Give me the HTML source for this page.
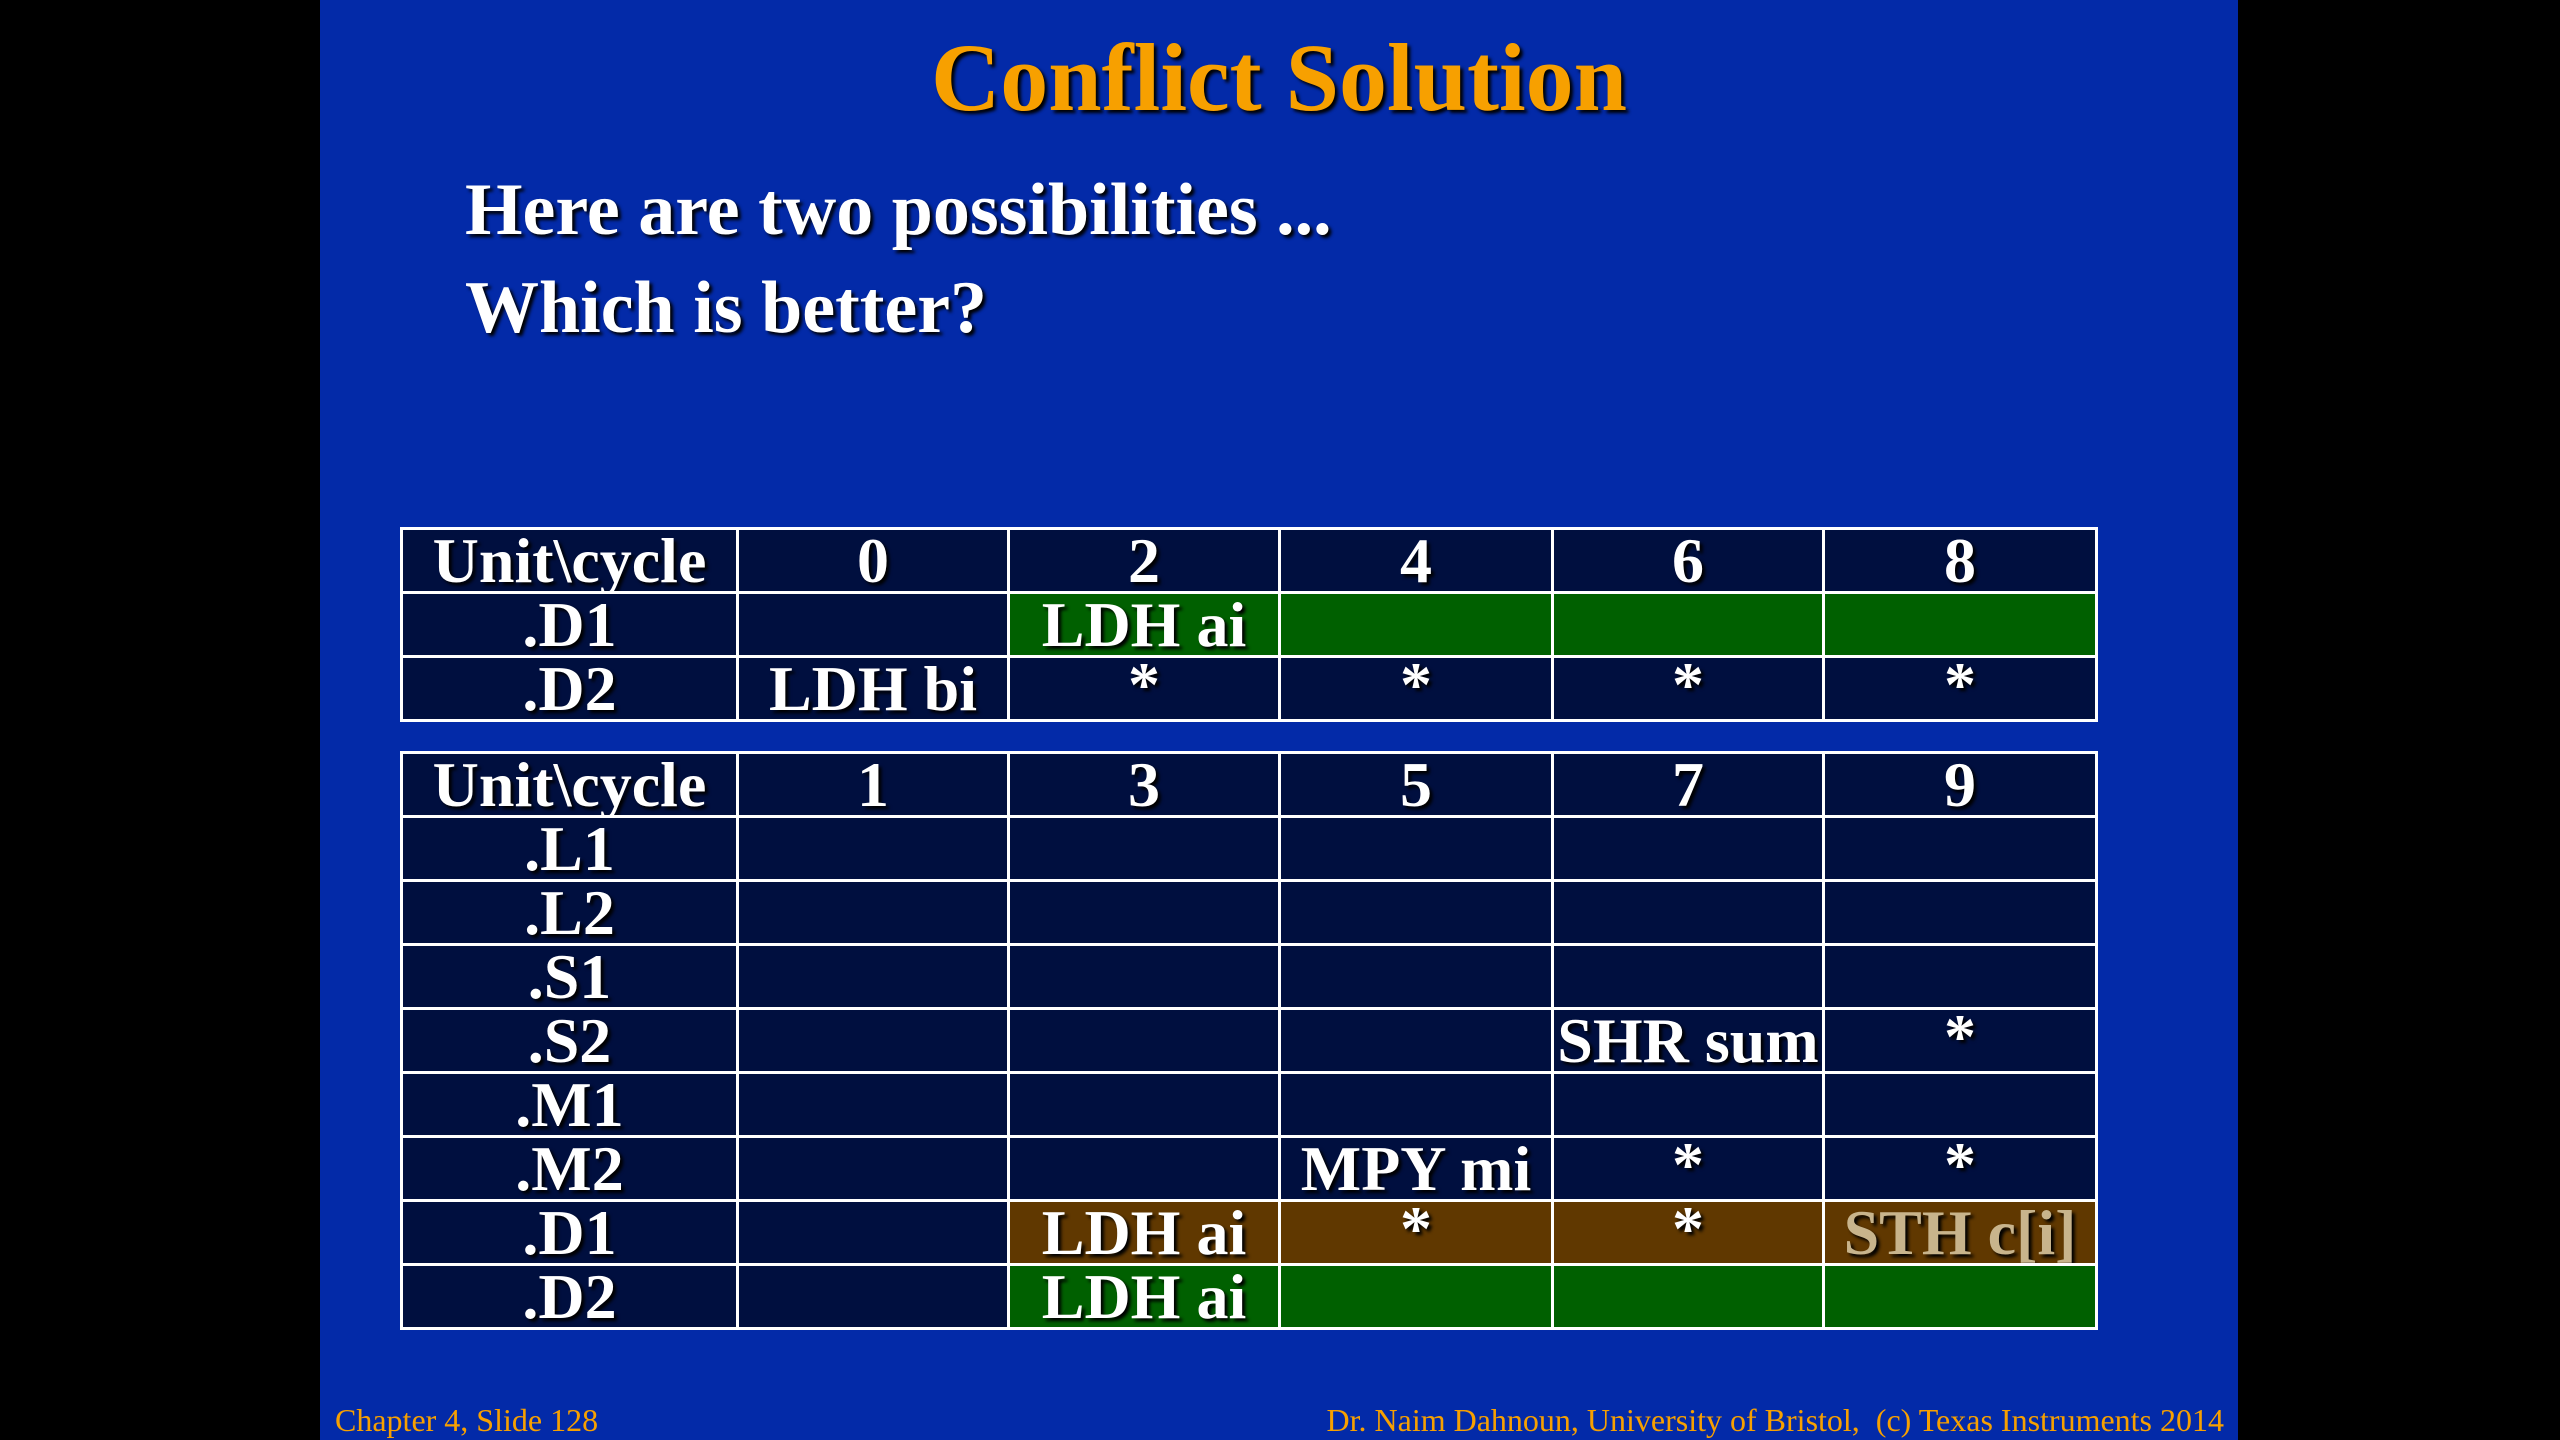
<!DOCTYPE html>
<html><head><meta charset="utf-8"><style>
body{margin:0;width:2560px;height:1440px;background:#000;overflow:hidden;font-family:"Liberation Serif",serif;}
#slide{position:absolute;left:320px;top:0;width:1918px;height:1440px;background:#032aa8;}
.t{position:absolute;font-weight:bold;white-space:nowrap;text-shadow:3px 3px 3px #000;}
table{position:absolute;left:400px;border-collapse:collapse;table-layout:fixed;}
td{border:3px solid #fff;background:#000f3f;color:#fff;font-weight:bold;font-size:64px;text-align:center;height:61px;padding:0;line-height:61px;text-shadow:3px 3px 3px #000;white-space:nowrap;overflow:hidden;}
td.g{background:#006000}td.b{background:#603800}
.ast{vertical-align:top;line-height:54px;}
.foot{position:absolute;top:1402px;font-size:32px;color:#f7a000;}
</style></head><body>
<div id="slide">
<div class="t" style="left:0;width:1918px;text-align:center;top:22px;font-size:96px;color:#f7a000;">Conflict Solution</div>
<div class="t" style="left:145px;top:168px;font-size:74px;color:#fff;">Here are two possibilities ...</div>
<div class="t" style="left:145px;top:266px;font-size:74px;color:#fff;">Which is better?</div>
<div class="foot" style="left:15px;">Chapter 4, Slide 128</div>
<div class="foot" style="right:14px;">Dr. Naim Dahnoun, University of Bristol,&nbsp; (c) Texas Instruments 2014</div>
</div>
<table style="top:527px;width:1695px;">
<colgroup><col style="width:336px"><col style="width:271px"><col style="width:271px"><col style="width:273px"><col style="width:271px"><col style="width:273px"></colgroup>
<tr><td>Unit\cycle</td><td>0</td><td>2</td><td>4</td><td>6</td><td>8</td></tr>
<tr><td>.D1</td><td></td><td class="g">LDH ai</td><td class="g"></td><td class="g"></td><td class="g"></td></tr>
<tr><td>.D2</td><td>LDH bi</td><td class="ast">*</td><td class="ast">*</td><td class="ast">*</td><td class="ast">*</td></tr>
</table>
<table style="top:751px;width:1695px;">
<colgroup><col style="width:336px"><col style="width:271px"><col style="width:271px"><col style="width:273px"><col style="width:271px"><col style="width:273px"></colgroup>
<tr><td>Unit\cycle</td><td>1</td><td>3</td><td>5</td><td>7</td><td>9</td></tr>
<tr><td>.L1</td><td></td><td></td><td></td><td></td><td></td></tr>
<tr><td>.L2</td><td></td><td></td><td></td><td></td><td></td></tr>
<tr><td>.S1</td><td></td><td></td><td></td><td></td><td></td></tr>
<tr><td>.S2</td><td></td><td></td><td></td><td>SHR sum</td><td class="ast">*</td></tr>
<tr><td>.M1</td><td></td><td></td><td></td><td></td><td></td></tr>
<tr><td>.M2</td><td></td><td></td><td>MPY mi</td><td class="ast">*</td><td class="ast">*</td></tr>
<tr><td>.D1</td><td></td><td class="b">LDH ai</td><td class="b ast">*</td><td class="b ast">*</td><td class="b" style="color:#c8b48c">STH c[i]</td></tr>
<tr><td>.D2</td><td></td><td class="g">LDH ai</td><td class="g"></td><td class="g"></td><td class="g"></td></tr>
</table>
</body></html>
